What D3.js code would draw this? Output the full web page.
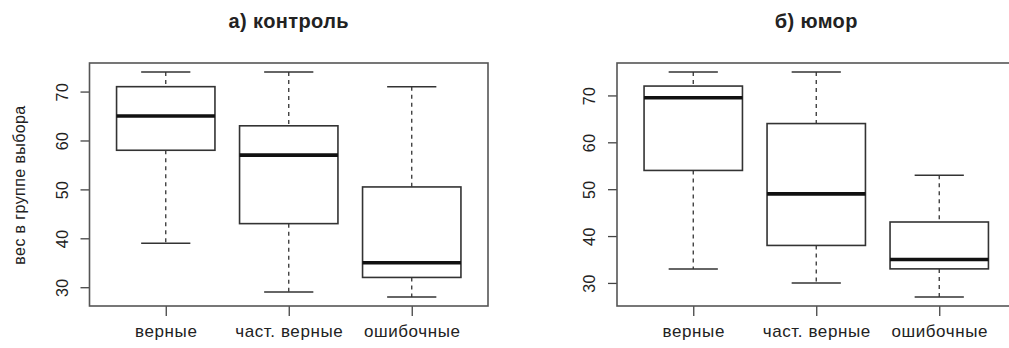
<!doctype html>
<html lang="ru">
<head>
<meta charset="utf-8">
<title>boxplots</title>
<style>
    body { margin: 0; background: #fff; }
    svg { display: block; font-family: "Liberation Sans", Arial, sans-serif; }
</style>
</head>
<body>
<svg width="1009" height="348"></svg>
<script src="https://d3js.org/d3.v7.min.js"></script>
<script>
    var categories = ["верные", "част. верные", "ошибочные"];
    var titles = ["а) контроль", "б) юмор"];
    var yTicks = [30, 40, 50, 60, 70];

    // [нижний ус, Q1, медиана, Q3, верхний ус]
    var control = [
        [39, 58, 65, 71, 74],
        [29, 43, 57, 63, 74],
        [28, 32, 35, 50.5, 71]
    ];
    var humor = [
        [33, 54, 69.5, 72, 75],
        [30, 38, 49, 64, 75],
        [27, 33, 35, 43, 53]
    ];

    var svg = d3.select("svg");
    var lineColor = "#333";

    function drawPanel(stats, title, left, right, top, bottom) {
        var lo = d3.min(stats, function (d) { return d[0]; }),
            hi = d3.max(stats, function (d) { return d[4]; }),
            pad = (hi - lo) * 0.04;

        var y = d3.scaleLinear().domain([lo - pad, hi + pad]).range([bottom, top]);
        var x = d3.scaleLinear().domain([0.38, 3.62]).range([left, right]);
        var step = x(2) - x(1),
            boxW = step * 0.8,
            capW = boxW / 2;

        var g = svg.append("g");

        // axes
        var yAxis = g.append("g")
            .attr("transform", "translate(" + left + ",0)")
            .call(d3.axisLeft(y).tickValues(yTicks).tickSize(9).tickPadding(0));
        yAxis.select(".domain").remove();
        yAxis.selectAll(".tick line").attr("stroke", "#444").attr("stroke-width", 1.3);
        yAxis.selectAll(".tick text")
            .attr("transform", "rotate(-90)")
            .attr("x", 0)
            .attr("y", -22)
            .attr("dy", 0)
            .attr("text-anchor", "middle")
            .attr("font-size", 16)
            .attr("letter-spacing", 0.5)
            .attr("fill", "#222");

        var xAxis = g.append("g")
            .attr("transform", "translate(0," + bottom + ")")
            .call(d3.axisBottom(x).tickValues([1, 2, 3]).tickSize(10).tickPadding(0)
                .tickFormat(function (d) { return categories[d - 1]; }));
        xAxis.select(".domain").remove();
        xAxis.selectAll(".tick line").attr("stroke", "#444").attr("stroke-width", 1.3);
        xAxis.selectAll(".tick text")
            .attr("y", 31)
            .attr("dy", 0)
            .attr("font-size", 17)
            .attr("letter-spacing", 0.6)
            .attr("fill", "#222");

        // boxes
        var box = g.selectAll(".box")
            .data(stats)
            .enter().append("g")
            .attr("class", "box");

        box.append("line")
            .attr("x1", function (d, i) { return x(i + 1); })
            .attr("x2", function (d, i) { return x(i + 1); })
            .attr("y1", function (d) { return y(d[4]); })
            .attr("y2", function (d) { return y(d[3]); })
            .attr("stroke", lineColor).attr("stroke-width", 1.3)
            .attr("stroke-dasharray", "4,4");
        box.append("line")
            .attr("x1", function (d, i) { return x(i + 1); })
            .attr("x2", function (d, i) { return x(i + 1); })
            .attr("y1", function (d) { return y(d[1]); })
            .attr("y2", function (d) { return y(d[0]); })
            .attr("stroke", lineColor).attr("stroke-width", 1.3)
            .attr("stroke-dasharray", "4,4");

        [0, 4].forEach(function (k) {
            box.append("line")
                .attr("x1", function (d, i) { return x(i + 1) - capW / 2; })
                .attr("x2", function (d, i) { return x(i + 1) + capW / 2; })
                .attr("y1", function (d) { return y(d[k]); })
                .attr("y2", function (d) { return y(d[k]); })
                .attr("stroke", lineColor).attr("stroke-width", 1.5);
        });

        box.append("rect")
            .attr("x", function (d, i) { return x(i + 1) - boxW / 2; })
            .attr("width", boxW)
            .attr("y", function (d) { return y(d[3]); })
            .attr("height", function (d) { return y(d[1]) - y(d[3]); })
            .attr("fill", "none")
            .attr("stroke", lineColor).attr("stroke-width", 1.6);

        box.append("line")
            .attr("x1", function (d, i) { return x(i + 1) - boxW / 2; })
            .attr("x2", function (d, i) { return x(i + 1) + boxW / 2; })
            .attr("y1", function (d) { return y(d[2]); })
            .attr("y2", function (d) { return y(d[2]); })
            .attr("stroke", "#111").attr("stroke-width", 3.6);

        // frame
        g.append("rect")
            .attr("x", left).attr("y", top)
            .attr("width", right - left).attr("height", bottom - top)
            .attr("fill", "none")
            .attr("stroke", "#555").attr("stroke-width", 1.6);

        g.append("text")
            .attr("x", (left + right) / 2)
            .attr("y", 28)
            .attr("text-anchor", "middle")
            .attr("font-size", 20)
            .attr("font-weight", "bold")
            .attr("letter-spacing", 0.4)
            .attr("fill", "#222")
            .text(title);
    }

    drawPanel(control, titles[0], 89.5, 488, 63, 306);
    drawPanel(humor, titles[1], 617, 1015.5, 63, 306);

    svg.append("text")
        .attr("transform", "translate(25,185) rotate(-90)")
        .attr("text-anchor", "middle")
        .attr("font-size", 16)
        .attr("letter-spacing", 0.4)
        .attr("fill", "#222")
        .text("вес в группе выбора");
</script>
</body>
</html>
